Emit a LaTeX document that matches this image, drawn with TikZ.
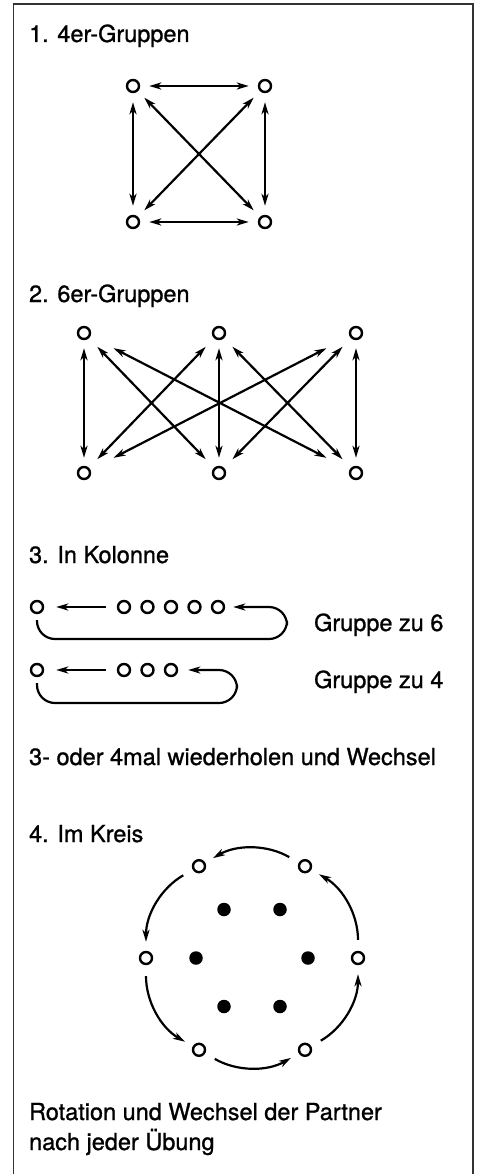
\documentclass[tikz,border=0pt]{standalone}
\usepackage{fontspec}
\setmainfont{TeX Gyre Heros}[FakeBold=1]
\usetikzlibrary{arrows.meta}

\tikzset{
  pers/.style={circle,draw,line width=2.4pt,minimum size=12pt,inner sep=0pt},
  mitte/.style={circle,fill,minimum size=13.5pt,inner sep=0pt},
  titel/.style={anchor=base west,inner sep=0pt,font=\fontsize{23.5}{30}\selectfont},
}

\begin{document}
\begin{tikzpicture}[x=1pt,y=1pt,line width=2.2pt,
    >={Stealth[length=12pt,width=7pt,inset=3.5pt]}]
      \useasboundingbox (0,0) rectangle (481,-1174);
      \draw[black!80,line width=1.8pt] (13.5,-1174) |- (473,-4) -- (473,-1174);
      % 1. 4er-Gruppen
      \node[titel] (t1) at (28,-42) {1. 4er-Gruppen};
      \draw
        (133,-86) node[pers] (a1){}
        (265,-86) node[pers] (a2){}
        (133,-222) node[pers] (a3){}
        (265,-222) node[pers] (a4){};
      \begin{scope}[<->,shorten <=9pt,shorten >=9pt]
        \draw (a1) to (a2);
        \draw (a3) to (a4);
        \draw (a1) to (a3);
        \draw (a2) to (a4);
        \draw (a1) to (a4);
        \draw (a2) to (a3);
      \end{scope}
      % 2. 6er-Gruppen
      \node[titel] (t2) at (28,-302) {2. 6er-Gruppen};
      \draw
        (84,-333) node[pers] (b1){}
        (219,-333) node[pers] (b2){}
        (356,-333) node[pers] (b3){}
        (84,-473) node[pers] (b4){}
        (219,-473) node[pers] (b5){}
        (356,-473) node[pers] (b6){};
      \begin{scope}[<->,shorten <=8pt,shorten >=8pt]
        \draw (b1) to (b4);
        \draw (b2) to (b5);
        \draw (b3) to (b6);
      \end{scope}
      \begin{scope}[<->,shorten <=12pt,shorten >=12pt]
        \draw (b1) to (b5);
        \draw (b2) to (b4);
        \draw (b2) to (b6);
        \draw (b3) to (b5);
      \end{scope}
      \begin{scope}[<->,shorten <=26pt,shorten >=26pt]
        \draw (b1) to (b6);
        \draw (b3) to (b4);
      \end{scope}
      % 3. In Kolonne
      \node[titel] (t3) at (28,-563) {3. In Kolonne};
      \draw
        (37,-607) node[pers] (c0){}
        (124,-607) node[pers] (c1){}
        (147.5,-607) node[pers] (c2){}
        (171,-607) node[pers] (c3){}
        (194.5,-607) node[pers] (c4){}
        (218,-607) node[pers] (c5){}
        (37,-670) node[pers] (d0){}
        (124,-670) node[pers] (d1){}
        (147.5,-670) node[pers] (d2){}
        (171,-670) node[pers] (d3){};
      \coordinate (k6) at (287,-639);
      \coordinate (k4) at (237,-703);
      \begin{scope}[->]
        \draw[shorten <=11pt,shorten >=12pt] (c1) to (c0);
        \draw[shorten <=11pt,shorten >=12pt] (d1) to (d0);
        \draw[rounded corners=18pt,shorten <=6pt,shorten >=8pt] (c0) |- (k6) |- (c5);
        \draw[rounded corners=18pt,shorten <=6pt,shorten >=10pt] (d0) |- (k4) |- (d3);
      \end{scope}
      \node[titel] (g6) at (313,-631) {Gruppe zu 6};
      \node[titel] (g4) at (313,-688) {Gruppe zu 4};
      \node[titel] (w) at (28,-765) {3- oder 4mal wiederholen und Wechsel};
      % 4. Im Kreis
      \node[titel] (t4) at (28,-842) {4. Im Kreis};
      \begin{scope}[shift={(252,-958)}]
        \draw
          (60:106) node[pers] (e1){}
          (120:106) node[pers] (e2){}
          (180:106) node[pers] (e3){}
          (240:106) node[pers] (e4){}
          (300:106) node[pers] (e5){}
          (0:106) node[pers] (e6){}
          (60:56) node[mitte] (f1){}
          (120:56) node[mitte] (f2){}
          (180:56) node[mitte] (f3){}
          (240:56) node[mitte] (f4){}
          (300:56) node[mitte] (f5){}
          (0:56) node[mitte] (f6){};
      \end{scope}
      \begin{scope}[->,shorten <=11pt,shorten >=9pt]
        \draw (e1) to[bend right=30] (e2);
        \draw (e2) to[bend right=30] (e3);
        \draw (e3) to[bend right=30] (e4);
        \draw (e4) to[bend right=30] (e5);
        \draw (e5) to[bend right=30] (e6);
        \draw (e6) to[bend right=30] (e1);
      \end{scope}
      \node[titel] (r1) at (28,-1120) {Rotation und Wechsel der Partner};
      \node[titel] (r2) at (28,-1150) {nach jeder Übung};
    \end{tikzpicture}
\end{document}
